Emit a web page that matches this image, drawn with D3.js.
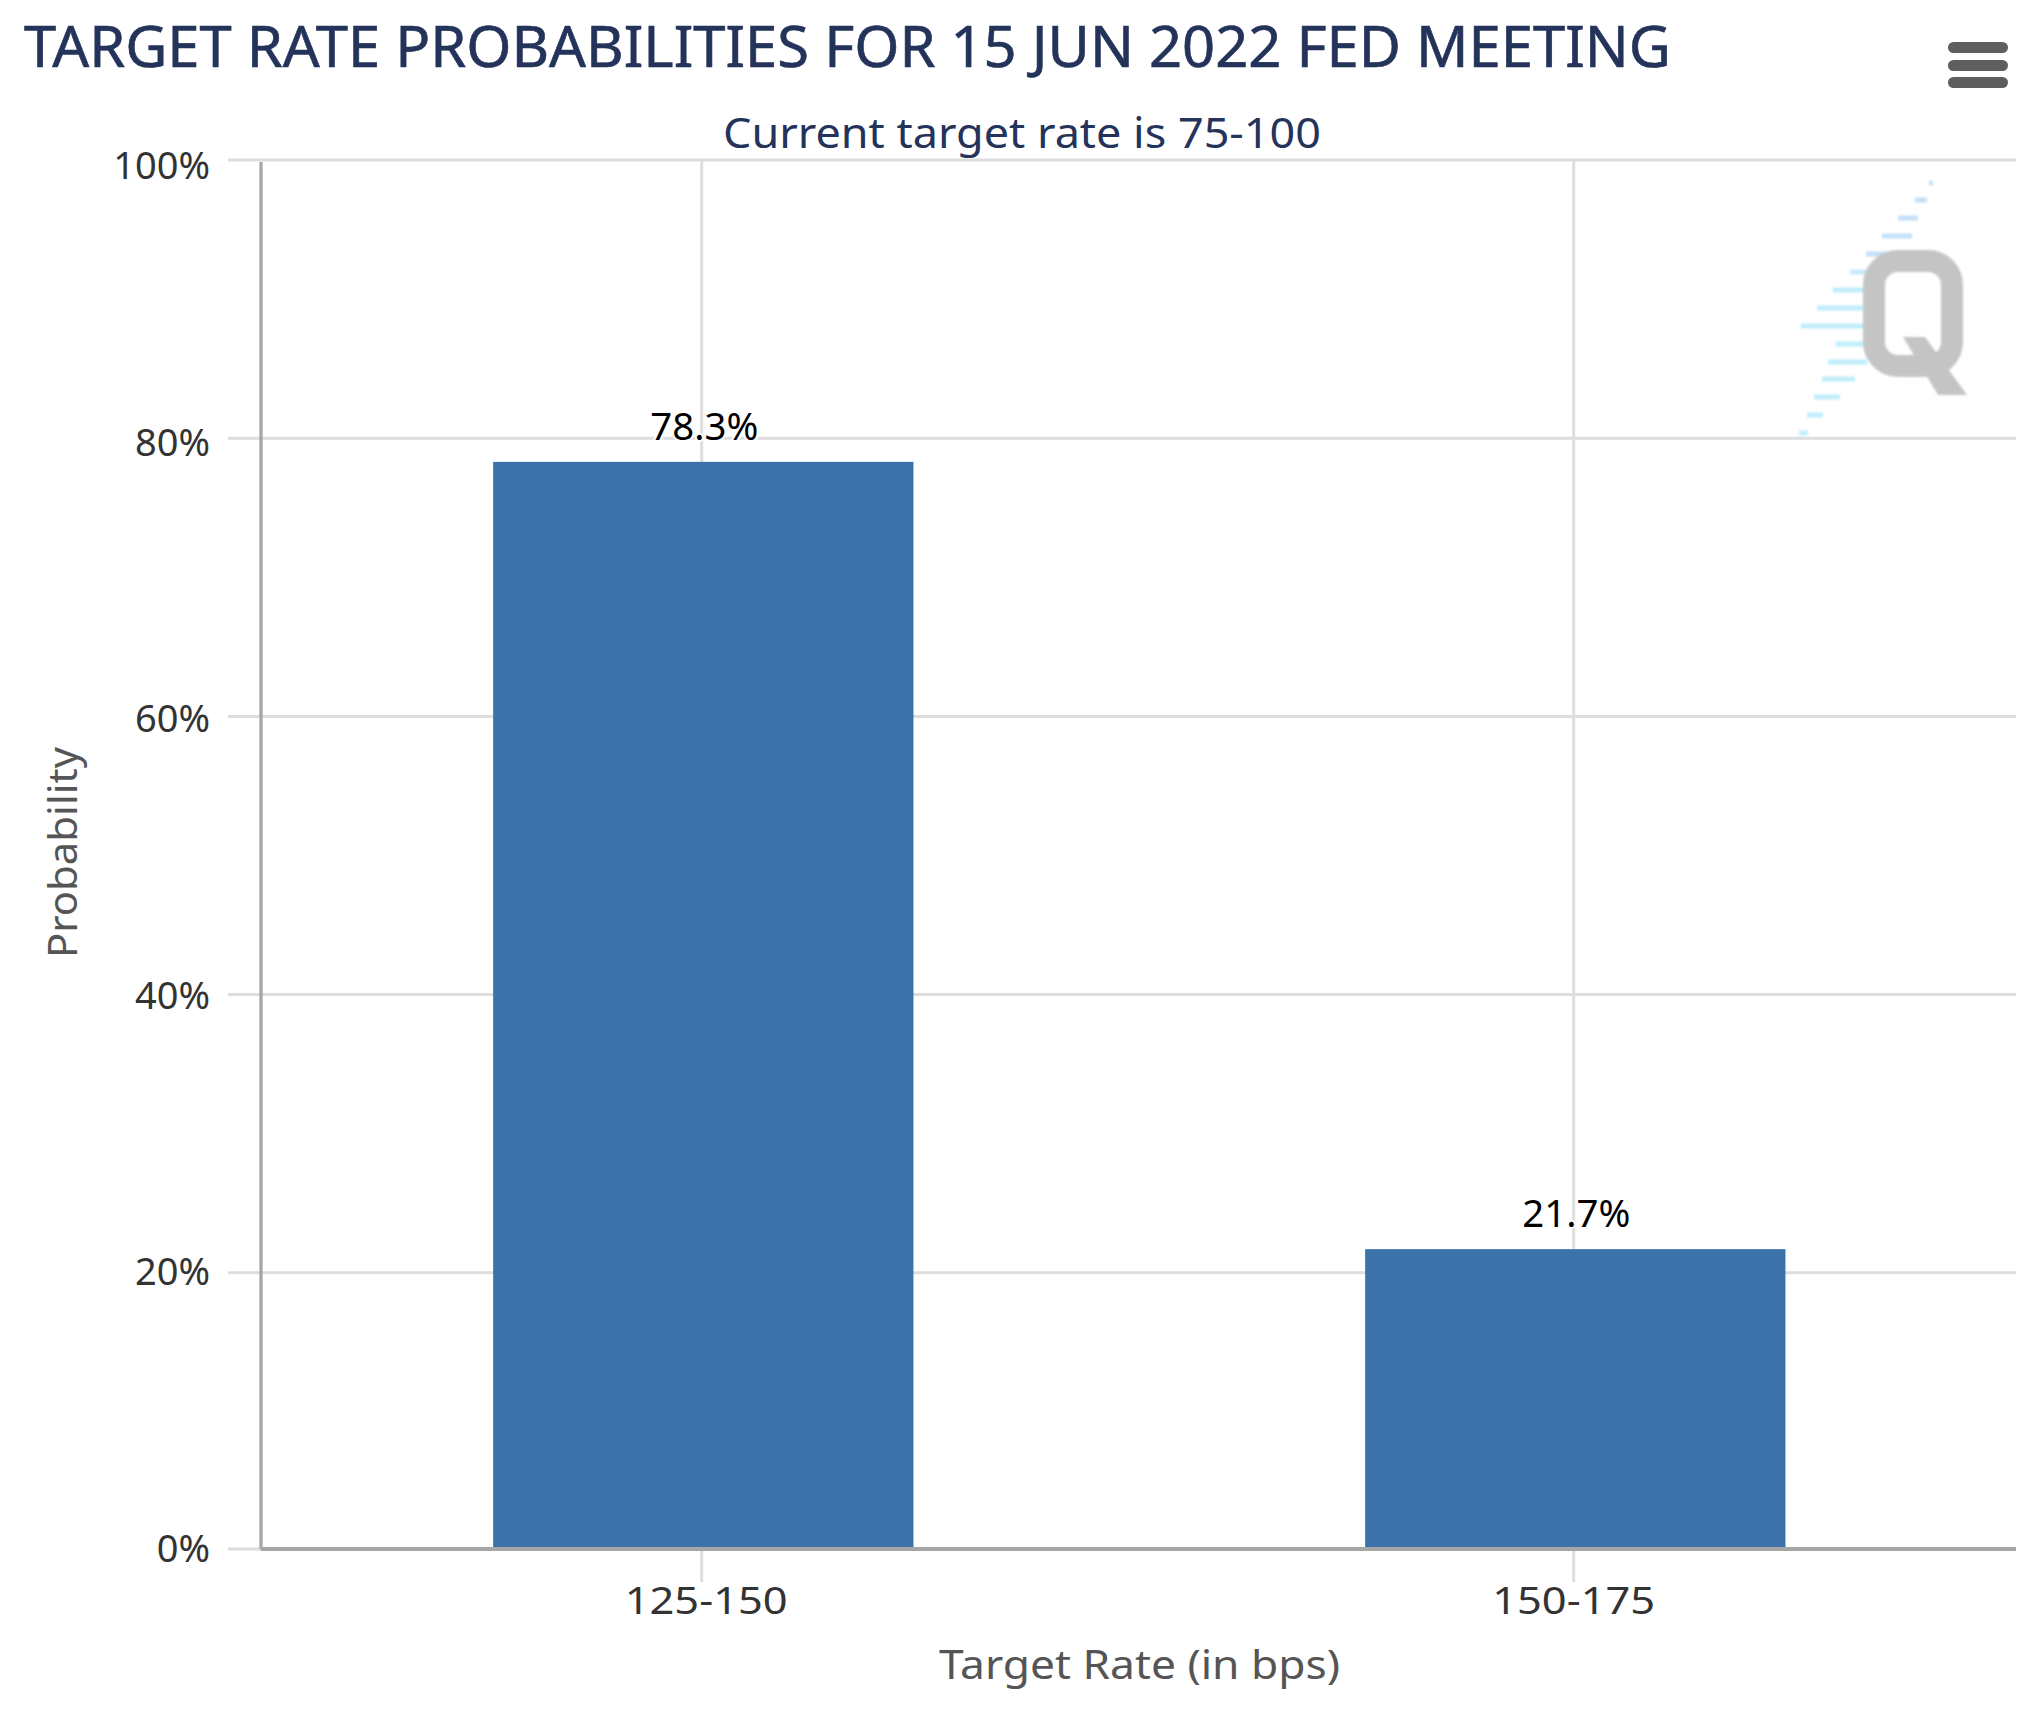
<!DOCTYPE html>
<html>
<head>
<meta charset="utf-8">
<script src="https://cdn.jsdelivr.net/npm/d3@7/dist/d3.min.js"></script>
<style>
  html, body { margin: 0; padding: 0; background: #fff; }
  svg { display: block; font-family: "Noto Sans", sans-serif; }
  .grid line { stroke: #dddddd; stroke-width: 3; }
</style>
</head>
<body>
<div id="chart"></div>
<script>
const categories = ['125-150', '150-175'];
const probabilities = [78.3, 21.7];
const yTicks = [0, 20, 40, 60, 80, 100];

const titleText = 'TARGET RATE PROBABILITIES FOR 15 JUN 2022 FED MEETING';
const subtitleText = 'Current target rate is 75-100';
const xTitle = 'Target Rate (in bps)';
const yTitle = 'Probability';

const width = 2042, height = 1716;
const plot = { left: 261, right: 2016, top: 160, bottom: 1549 };

const svg = d3.select('#chart').append('svg')
    .attr('width', width)
    .attr('height', height)
    .attr('viewBox', `0 0 ${width} ${height}`);

const x = d3.scaleBand()
    .domain(categories)
    .range([267.3, 2011.3])
    .paddingInner(0.518)
    .paddingOuter(0.259);

const y = d3.scaleLinear()
    .domain([0, 100])
    .range([1551, plot.top]);

// tick labels do not sit quite on the same spacing as the gridlines
const yLabel = d3.scaleLinear()
    .domain([0, 100])
    .range([1562, 179]);

const barCentre = d => x(d) + x.bandwidth() / 2;
const tickX = d => barCentre(d) - 1.6;

// titles
svg.append('text')
    .attr('x', 24)
    .attr('y', 67)
    .attr('fill', '#24335a')
    .attr('stroke', '#24335a')
    .attr('stroke-width', 0.6)
    .attr('font-size', 56)
    .attr('textLength', 1647)
    .attr('lengthAdjust', 'spacingAndGlyphs')
    .text(titleText);

svg.append('text')
    .attr('x', 1022)
    .attr('y', 148)
    .attr('text-anchor', 'middle')
    .attr('fill', '#24335a')
    .attr('font-size', 41)
    .attr('textLength', 598)
    .attr('lengthAdjust', 'spacingAndGlyphs')
    .text(subtitleText);

// horizontal gridlines, with their tick stubs
svg.append('g')
    .attr('class', 'grid')
    .selectAll('line')
    .data(yTicks)
    .join('line')
    .attr('x1', 228)
    .attr('x2', plot.right)
    .attr('y1', d => Math.min(y(d), plot.bottom))
    .attr('y2', d => Math.min(y(d), plot.bottom));

// vertical gridlines
svg.append('g')
    .attr('class', 'grid')
    .selectAll('line')
    .data(categories)
    .join('line')
    .attr('x1', tickX)
    .attr('x2', tickX)
    .attr('y1', plot.top)
    .attr('y2', 1582);

// logo
drawLogo(svg.append('g'));

// bars
svg.append('g')
    .selectAll('rect')
    .data(probabilities)
    .join('rect')
    .attr('x', (d, i) => x(categories[i]))
    .attr('width', x.bandwidth())
    .attr('y', d => y(d))
    .attr('height', d => plot.bottom - y(d))
    .attr('fill', '#3b72aa');

// bar labels
svg.append('g')
    .selectAll('text')
    .data(probabilities)
    .join('text')
    .attr('x', (d, i) => barCentre(categories[i]) + 1)
    .attr('y', d => y(d) - 22)
    .attr('text-anchor', 'middle')
    .attr('fill', '#000')
    .attr('stroke', '#fff')
    .attr('stroke-width', 4)
    .attr('paint-order', 'stroke')
    .attr('font-size', 38)
    .attr('textLength', 108)
    .attr('lengthAdjust', 'spacingAndGlyphs')
    .text(d => d.toFixed(1) + '%');

// axis lines
svg.append('line')
    .attr('x1', plot.left).attr('x2', plot.left)
    .attr('y1', plot.top + 2).attr('y2', plot.bottom)
    .attr('stroke', '#a6a6a6').attr('stroke-width', 3.3);

svg.append('line')
    .attr('x1', plot.left).attr('x2', plot.right)
    .attr('y1', plot.bottom).attr('y2', plot.bottom)
    .attr('stroke', '#a6a6a6').attr('stroke-width', 4);

// y tick labels
svg.append('g')
    .selectAll('text')
    .data(yTicks)
    .join('text')
    .attr('x', 210)
    .attr('y', d => yLabel(d))
    .attr('text-anchor', 'end')
    .attr('fill', '#333333')
    .attr('font-size', 38)
    .text(d => d + '%');

// x tick labels
svg.append('g')
    .selectAll('text')
    .data(categories)
    .join('text')
    .attr('x', (d, i) => tickX(d) + [4.5, 0][i])
    .attr('y', 1614)
    .attr('text-anchor', 'middle')
    .attr('fill', '#333333')
    .attr('font-size', 38)
    .attr('textLength', 163)
    .attr('lengthAdjust', 'spacingAndGlyphs')
    .text(d => d);

// axis titles
svg.append('text')
    .attr('x', 1139.5)
    .attr('y', 1679)
    .attr('text-anchor', 'middle')
    .attr('fill', '#555555')
    .attr('font-size', 40)
    .attr('textLength', 401)
    .attr('lengthAdjust', 'spacingAndGlyphs')
    .text(xTitle);

svg.append('text')
    .attr('transform', 'translate(77,852.5) rotate(-90)')
    .attr('text-anchor', 'middle')
    .attr('fill', '#555555')
    .attr('font-size', 40)
    .attr('textLength', 211)
    .attr('lengthAdjust', 'spacingAndGlyphs')
    .text(yTitle);

// export menu button
svg.append('g')
    .selectAll('rect')
    .data([42, 60, 77])
    .join('rect')
    .attr('x', 1948)
    .attr('y', d => d)
    .attr('width', 60)
    .attr('height', 11)
    .attr('rx', 5.5)
    .attr('fill', '#5e5e5e');

function drawLogo(g) {
    svg.append('defs').append('filter')
        .attr('id', 'logo-blur')
      .append('feGaussianBlur')
        .attr('stdDeviation', 0.8);
    g.attr('filter', 'url(#logo-blur)');

    // [y, x start, x end] of each dash, in page pixels
    const dashes = [
        [183, 1929, 1933], [200, 1915, 1927], [218, 1898, 1918], [236, 1882, 1912],
        [254, 1866, 1887], [272, 1850, 1867], [290, 1833, 1864], [308, 1817, 1864],
        [326, 1801, 1864], [344, 1836, 1864], [362, 1828, 1867], [379, 1822, 1855],
        [397, 1814, 1840], [415, 1807, 1823], [433, 1799, 1808]
    ];
    g.selectAll('rect')
        .data(dashes)
        .join('rect')
        .attr('x', d => d[1])
        .attr('y', d => d[0] - 2.5)
        .attr('width', d => d[2] - d[1])
        .attr('height', 5)
        .attr('fill', d => d[0] < 270 ? '#c4e0f8' : '#bfeefb');

    g.append('rect')
        .attr('x', 1874).attr('y', 261)
        .attr('width', 78).attr('height', 105)
        .attr('rx', 24)
        .attr('fill', 'none')
        .attr('stroke', '#c4c4c4')
        .attr('stroke-width', 22);

    g.append('path')
        .attr('d', 'M1903,337H1925L1967,395H1938Z')
        .attr('fill', '#c4c4c4');
}
</script>
</body>
</html>
